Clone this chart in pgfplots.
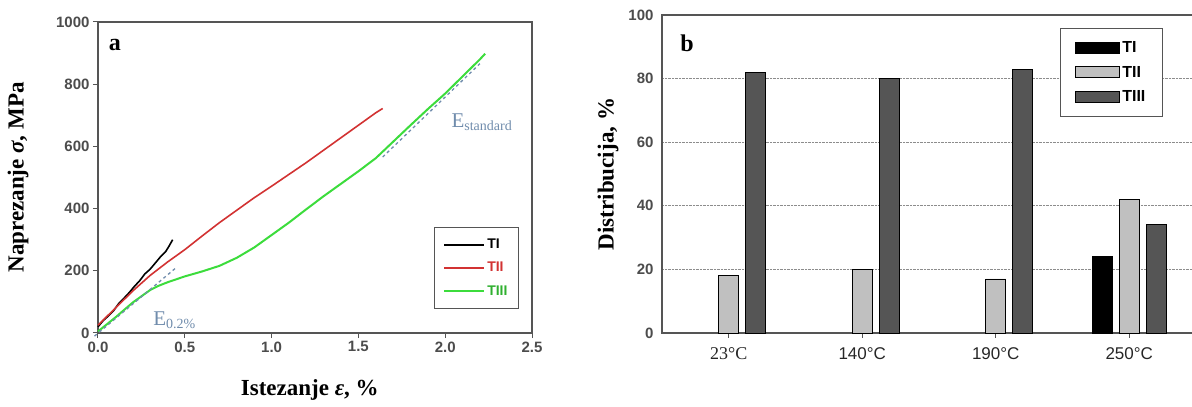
\documentclass[border=0pt]{standalone}
\usepackage{pgfplots}
\pgfplotsset{compat=1.18}
\usepackage{fontspec}
\setmainfont{Liberation Serif}
\newfontfamily\arial{Liberation Sans}
\definecolor{egray}{RGB}{112,140,172}
\definecolor{tgreen}{RGB}{60,220,60}
\definecolor{tred}{RGB}{210,50,50}
\definecolor{lgray}{RGB}{192,192,192}
\definecolor{dgray}{RGB}{85,85,85}
\definecolor{framec}{RGB}{85,85,85}
\begin{document}
\begin{tikzpicture}[x=1pt,y=1pt]
\useasboundingbox (0,0) rectangle (1192,407);
% ---------- left chart ----------
\begin{axis}[
  at={(98pt,74pt)}, anchor=south west, scale only axis,
  width=434pt, height=311pt,
  xmin=0, xmax=2.5, ymin=0, ymax=1000,
  xtick={0,0.5,1,1.5,2,2.5}, ytick={0,200,400,600,800,1000},
  xticklabel style={/pgf/number format/.cd, fixed, fixed zerofill, precision=1},
  yticklabel style={/pgf/number format/.cd, 1000 sep={}},
  /pgf/number format/assume math mode=true,
  ticklabel style={font=\arial\bfseries\fontsize{15}{15}\selectfont, text=black!70},
  tick align=outside, tick pos=left, major tick length=5pt,
  tick style={draw=framec, line width=1pt},
  axis line style={draw=framec, line width=1.5pt},
  xlabel={Istezanje \textit{ε}, \%},
  ylabel={Naprezanje \textit{σ}, MPa},
  label style={font=\bfseries\fontsize{23}{23}\selectfont},
  xlabel style={at={(axis description cs:0.488,-0.183)}, anchor=center},
  ylabel style={at={(axis description cs:-0.184,0.5)}, anchor=center, rotate=0},
  legend style={at={(0.970,0.077)}, anchor=south east, draw=framec, line width=1pt,
    font=\arial\bfseries\fontsize{14}{14}\selectfont, inner xsep=9pt, inner ysep=10pt,
    row sep=8pt},
  legend cell align=left,
  legend image code/.code={\draw[#1] (0pt,0pt) -- (40pt,0pt);},
  clip=false,
]
\addplot[black, line width=1.6pt] coordinates {
(0,20) (0.03,40) (0.06,55) (0.09,72) (0.12,95) (0.15,112) (0.18,130) (0.21,150)
(0.24,168) (0.27,190) (0.30,205) (0.33,225) (0.36,245) (0.39,262) (0.41,280) (0.43,300)};
\addlegendentry{\textcolor{black}{TI}}
\addplot[tred, line width=1.6pt] coordinates {
(0,25) (0.1,80) (0.2,135) (0.3,185) (0.4,228) (0.5,268) (0.6,312) (0.7,355)
(0.8,395) (0.9,435) (1.0,472) (1.1,510) (1.2,548) (1.3,588) (1.4,628) (1.5,668)
(1.6,708) (1.64,722)};
\addlegendentry{\textcolor{tred}{TII}}
\addplot[tgreen, line width=2pt] coordinates {
(0,5) (0.1,50) (0.2,98) (0.3,138) (0.35,152) (0.4,163) (0.5,182) (0.6,198) (0.7,216)
(0.8,242) (0.9,275) (1.0,315) (1.1,355) (1.2,398) (1.3,440) (1.4,480) (1.5,520)
(1.6,562) (1.7,615) (1.8,668) (1.9,720) (2.0,770) (2.1,825) (2.2,880) (2.23,898)};
\addlegendentry{\textcolor{tgreen!80!black}{TIII}}
\addplot[egray, dashed, line width=1.3pt, forget plot] coordinates {(-0.02,-10) (0.45,210)};
\addplot[egray, dashed, line width=1.3pt, forget plot] coordinates {(1.64,566) (2.2,866)};
\node[font=\bfseries\fontsize{24}{24}\selectfont] at (rel axis cs:0.039,0.925) {a};
\node[text=egray, font=\fontsize{21}{21}\selectfont] at (axis cs:0.44,42)
  {E\raisebox{-3pt}{\fontsize{14}{14}\selectfont 0.2\%}};
\node[text=egray, font=\fontsize{21}{21}\selectfont] at (axis cs:2.21,677)
  {E\raisebox{-3pt}{\fontsize{14}{14}\selectfont standard}};
\end{axis}
% ---------- right chart ----------
\begin{axis}[
  at={(662pt,74pt)}, anchor=south west, scale only axis,
  width=534pt, height=318pt,
  xmin=-0.5, xmax=3.5, ymin=0, ymax=100,
  ybar, bar width=20pt,
  xtick={0,1,2,3},
  xticklabels={{\fontsize{18}{18}\selectfont 23°C},{\arial 140°C},{\arial 190°C},{\arial 250°C}},
  ytick={0,20,40,60,80,100},
  /pgf/number format/assume math mode=true,
  yticklabel style={font=\arial\bfseries\fontsize{15}{15}\selectfont, text=black!70},
  xticklabel style={font=\fontsize{17}{17}\selectfont, text=black!85, yshift=-6pt},
  tick align=outside, tick pos=left, major tick length=5pt,
  xtick style={draw=framec, line width=1pt},
  ytick style={draw=none},
  ymajorgrids, grid style={densely dotted, black!45, line width=0.9pt},
  axis line style={draw=framec, line width=1.5pt},
  ylabel={Distribucija, \%},
  ylabel style={font=\bfseries\fontsize{23}{23}\selectfont,
    at={(axis description cs:-0.101,0.5)}, anchor=center},
  legend style={at={(0.938,0.959)}, anchor=north east, draw=framec, line width=1pt,
    font=\arial\bfseries\fontsize{16}{16}\selectfont, inner xsep=15pt, inner ysep=11pt,
    row sep=8pt},
  legend cell align=left,
  legend image code/.code={\draw[#1, draw=black, line width=0.8pt] (0pt,-5.5pt) rectangle (44pt,5.5pt);},
  clip=false,
]
\addplot[fill=black, draw=black, line width=0.8pt, bar shift=-27pt] coordinates {(3,24)};
\addlegendentry{TI}
\addplot[fill=lgray, draw=black, line width=0.8pt, bar shift=0pt] coordinates {(0,18) (1,20) (2,17) (3,42)};
\addlegendentry{TII}
\addplot[fill=dgray, draw=black, line width=0.8pt, bar shift=27pt] coordinates {(0,82) (1,80) (2,83) (3,34)};
\addlegendentry{TIII}
\node[font=\bfseries\fontsize{24}{24}\selectfont] at (rel axis cs:0.047,0.912) {b};
\end{axis}
\end{tikzpicture}
\end{document}
